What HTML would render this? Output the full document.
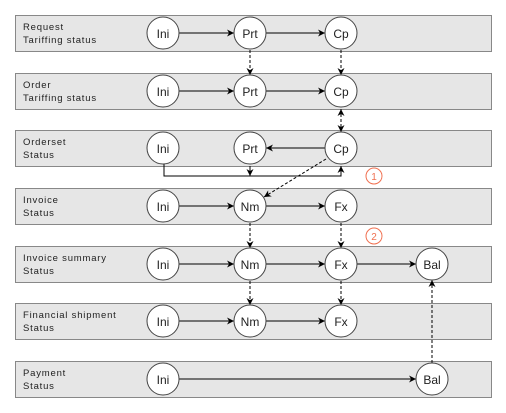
<!DOCTYPE html>
<html><head><style>
html,body{margin:0;padding:0;background:#fff;width:506px;height:413px;overflow:hidden}
</style></head><body>
<svg width="506" height="413" xmlns="http://www.w3.org/2000/svg" font-family="Liberation Sans, sans-serif">
<defs>
<marker id="a" viewBox="0 0 10 10" refX="10" refY="5" markerWidth="7" markerHeight="7" orient="auto-start-reverse" markerUnits="userSpaceOnUse"><path d="M0,0 L10,5 L0,10 L3,5 z" fill="#000"/></marker>
</defs>
<g fill="#e6e6e6" stroke="#888" stroke-width="1">
<rect x="15.5" y="15.5" width="476" height="36"/>
<rect x="15.5" y="73.5" width="476" height="36"/>
<rect x="15.5" y="130.5" width="476" height="36"/>
<rect x="15.5" y="188.5" width="476" height="36"/>
<rect x="15.5" y="246.5" width="476" height="36"/>
<rect x="15.5" y="303.5" width="476" height="36"/>
<rect x="15.5" y="361.5" width="476" height="36"/>
</g>
<g font-size="9.5" fill="#222" letter-spacing="0.8">
<text x="23" y="30">Request</text><text x="23" y="43">Tariffing status</text>
<text x="23" y="88">Order</text><text x="23" y="101">Tariffing status</text>
<text x="23" y="145">Orderset</text><text x="23" y="158">Status</text>
<text x="23" y="203">Invoice</text><text x="23" y="216">Status</text>
<text x="23" y="261">Invoice summary</text><text x="23" y="274">Status</text>
<text x="23" y="318">Financial shipment</text><text x="23" y="331">Status</text>
<text x="23" y="376">Payment</text><text x="23" y="389">Status</text>
</g>
<g stroke="#000" stroke-width="1" fill="none" marker-end="url(#a)">
<line x1="179" y1="33" x2="234" y2="33"/><line x1="266" y1="33" x2="325" y2="33"/>
<line x1="179" y1="91" x2="234" y2="91"/><line x1="266" y1="91" x2="325" y2="91"/>
<line x1="325" y1="148" x2="266" y2="148"/>
<line x1="179" y1="206" x2="234" y2="206"/><line x1="266" y1="206" x2="325" y2="206"/>
<line x1="179" y1="264" x2="234" y2="264"/><line x1="266" y1="264" x2="325" y2="264"/><line x1="357" y1="264" x2="416" y2="264"/>
<line x1="179" y1="321" x2="234" y2="321"/><line x1="266" y1="321" x2="325" y2="321"/>
<line x1="179" y1="379" x2="416" y2="379"/>
<polyline points="164,164 164,176 341,176 341,166"/>
<line x1="250" y1="166" x2="250" y2="176"/>
</g>
<g stroke="#000" stroke-width="1" fill="none" stroke-dasharray="3,2" marker-end="url(#a)">
<line x1="250" y1="50" x2="250" y2="75"/><line x1="341" y1="50" x2="341" y2="75"/>
<line x1="341" y1="109" x2="341" y2="132" marker-start="url(#a)"/>
<line x1="326" y1="159" x2="264" y2="197"/>
<line x1="250" y1="223" x2="250" y2="248"/><line x1="341" y1="223" x2="341" y2="248"/>
<line x1="250" y1="281" x2="250" y2="305"/><line x1="341" y1="281" x2="341" y2="305"/>
<line x1="432" y1="363" x2="432" y2="280"/>
</g>
<g fill="#fff" stroke="#444" stroke-width="1">
<circle cx="163" cy="33" r="16"/><circle cx="250" cy="33" r="16"/><circle cx="341" cy="33" r="16"/>
<circle cx="163" cy="91" r="16"/><circle cx="250" cy="91" r="16"/><circle cx="341" cy="91" r="16"/>
<circle cx="163" cy="148" r="16"/><circle cx="250" cy="148" r="16"/><circle cx="341" cy="148" r="16"/>
<circle cx="163" cy="206" r="16"/><circle cx="250" cy="206" r="16"/><circle cx="341" cy="206" r="16"/>
<circle cx="163" cy="264" r="16"/><circle cx="250" cy="264" r="16"/><circle cx="341" cy="264" r="16"/><circle cx="432" cy="264" r="16"/>
<circle cx="163" cy="321" r="16"/><circle cx="250" cy="321" r="16"/><circle cx="341" cy="321" r="16"/>
<circle cx="163" cy="379" r="16"/><circle cx="432" cy="379" r="16"/>
</g>
<g font-size="12" fill="#222" text-anchor="middle">
<text x="163" y="38">Ini</text><text x="250" y="38">Prt</text><text x="341" y="38">Cp</text>
<text x="163" y="96">Ini</text><text x="250" y="96">Prt</text><text x="341" y="96">Cp</text>
<text x="163" y="153">Ini</text><text x="250" y="153">Prt</text><text x="341" y="153">Cp</text>
<text x="163" y="211">Ini</text><text x="250" y="211">Nm</text><text x="341" y="211">Fx</text>
<text x="163" y="269">Ini</text><text x="250" y="269">Nm</text><text x="341" y="269">Fx</text><text x="432" y="269">Bal</text>
<text x="163" y="326">Ini</text><text x="250" y="326">Nm</text><text x="341" y="326">Fx</text>
<text x="163" y="384">Ini</text><text x="432" y="384">Bal</text>
</g>
<g fill="#fff" stroke="#f07050" stroke-width="1">
<circle cx="374" cy="176" r="8"/><circle cx="374" cy="236" r="8"/>
</g>
<g font-size="10" fill="#f07050" text-anchor="middle">
<text x="374" y="180">1</text><text x="374" y="240">2</text>
</g>
</svg>
</body></html>
